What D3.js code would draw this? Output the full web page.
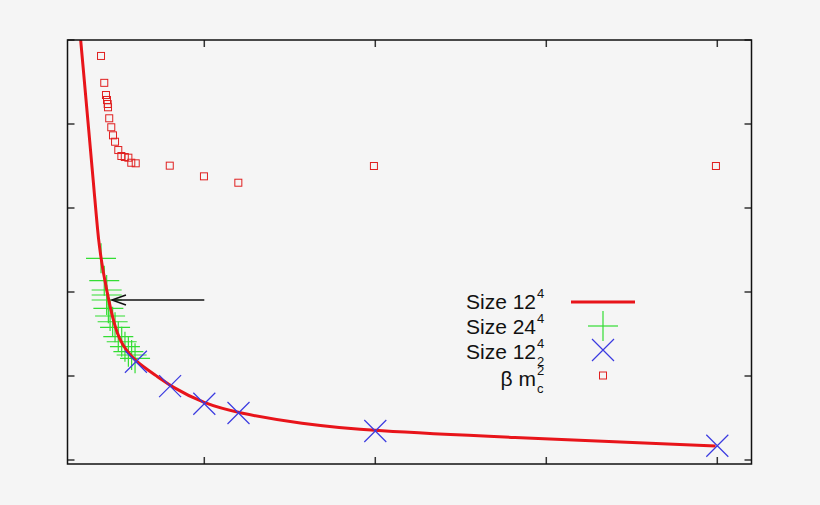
<!DOCTYPE html><html><head><meta charset="utf-8">
<script src="https://cdn.jsdelivr.net/npm/d3@7"></script>
<style>body{margin:0;background:#f5f5f5}svg{display:block}text{font-family:"Liberation Sans",Arial,sans-serif}</style>
</head><body><svg id="c" width="820" height="505"></svg>
<script>
const xTicks=[1,2,3,4];
const yTicks=[0,1,2,3,4,5];
const curveX=[0.277,0.361,0.380,0.409,0.449,0.495,0.595,0.741,0.80,1.0,1.197,1.56,1.99,2.73,3.99];
const curveY=[5.0,3.095,2.619,2.226,1.821,1.429,1.167,0.976,0.881,0.667,0.56,0.43,0.345,0.274,0.167];
const blueX=[0.60,0.80,1.0,1.2,2.0,4.0];
const blueY=[1.17,0.88,0.67,0.56,0.345,0.17];
const greenX=[0.396,0.415,0.429,0.429,0.429,0.439,0.449,0.464,0.478,0.497,0.517,0.536,0.556,0.575,0.595];
const greenY=[2.401,2.135,2.024,1.964,1.905,1.806,1.714,1.646,1.580,1.468,1.408,1.349,1.289,1.25,1.211];
const sqX=[0.396,0.415,0.425,0.431,0.435,0.437,0.444,0.456,0.466,0.478,0.497,0.515,0.535,0.556,0.573,0.599,0.798,0.998,1.199,1.992,3.992];
const sqY=[4.81,4.49,4.345,4.286,4.238,4.199,4.068,3.961,3.865,3.789,3.690,3.619,3.607,3.599,3.539,3.532,3.504,3.377,3.301,3.50,3.50];
const arrowFrom=[1.0,1.905], arrowTo=[0.46,1.905];

const svg=d3.select("#c");
const L=67.5,R=751.5,T=40,B=464;
const x=d3.scaleLinear().domain([0.2,4.2]).range([L,R]);
const y=d3.scaleLinear().domain([0,5]).range([460,40]);
svg.append("defs").append("clipPath").attr("id","cp").append("rect").attr("x",L).attr("y",T).attr("width",R-L).attr("height",B-T);
const g=svg.append("g");
xTicks.forEach(t=>{g.append("line").attr("x1",x(t)).attr("x2",x(t)).attr("y1",B).attr("y2",B-7).attr("stroke","#333").attr("stroke-width",1.5);
 g.append("line").attr("x1",x(t)).attr("x2",x(t)).attr("y1",T).attr("y2",T+7).attr("stroke","#333").attr("stroke-width",1.5);});
yTicks.forEach(t=>{g.append("line").attr("x1",L).attr("x2",L+7).attr("y1",y(t)).attr("y2",y(t)).attr("stroke","#333").attr("stroke-width",1.5);
 g.append("line").attr("x1",R).attr("x2",R-7).attr("y1",y(t)).attr("y2",y(t)).attr("stroke","#333").attr("stroke-width",1.5);});
const pg=svg.append("g").attr("clip-path","url(#cp)");
const sq=sqX.map((v,i)=>[v,sqY[i]]);
pg.selectAll(".sq").data(sq).join("rect").attr("x",d=>x(d[0])-3.5).attr("y",d=>y(d[1])-3.5).attr("width",7).attr("height",7).attr("fill","none").attr("stroke","#e02020").attr("stroke-width",1);
const gr=greenX.map((v,i)=>[v,greenY[i]]);
gr.forEach(d=>{const cx=x(d[0]),cy=y(d[1]);
 pg.append("line").attr("x1",cx-15).attr("x2",cx+15).attr("y1",cy).attr("y2",cy).attr("stroke","#33dd33").attr("stroke-width",1.2);
 pg.append("line").attr("x1",cx).attr("x2",cx).attr("y1",cy-15).attr("y2",cy+15).attr("stroke","#33dd33").attr("stroke-width",1.2);});
const cv=curveX.map((v,i)=>[v,curveY[i]]);
pg.append("path").datum(cv).attr("d",d3.line().x(d=>x(d[0])).y(d=>y(d[1])).curve(d3.curveBasis)).attr("fill","none").attr("stroke","#e8141a").attr("stroke-width",3);
const bl=blueX.map((v,i)=>[v,blueY[i]]);
bl.forEach(d=>{const cx=x(d[0]),cy=y(d[1]);
 pg.append("path").attr("d",`M${cx-11},${cy-11}L${cx+11},${cy+11}M${cx-11},${cy+11}L${cx+11},${cy-11}`).attr("stroke","#3a3ae0").attr("stroke-width",1.2);});
const ax1=x(arrowFrom[0]),ay=y(arrowFrom[1]),ax2=x(arrowTo[0]);
svg.append("line").attr("x1",ax1).attr("x2",ax2).attr("y1",ay).attr("y2",ay).attr("stroke","#111").attr("stroke-width",1.5);
svg.append("path").attr("d",`M${ax2+14},${ay-5}L${ax2},${ay}L${ax2+14},${ay+5}`).attr("fill","none").attr("stroke","#111").attr("stroke-width",1.5);
svg.append("rect").attr("x",L).attr("y",T).attr("width",R-L).attr("height",B-T).attr("fill","none").attr("stroke","#111").attr("stroke-width",1.5);
const lg=svg.append("g");
const rows=[309,334,359,386];
const fs=21, ss=13;
function lab(yy,main,sup,sub){
 lg.append("text").attr("x",536).attr("y",yy).attr("text-anchor","end").attr("font-size",fs).attr("fill","#111").text(main);
 lg.append("text").attr("x",537).attr("y",yy-11).attr("font-size",ss).attr("fill","#111").text(sup);
 if(sub) lg.append("text").attr("x",537).attr("y",yy+7).attr("font-size",ss).attr("fill","#111").text(sub);}
lab(rows[0],"Size 12","4");
lab(rows[1],"Size 24","4");
lab(rows[2],"Size 12","4","2");
lab(rows[3],"β m","2","c");
lg.append("line").attr("x1",571).attr("x2",635).attr("y1",rows[0]-7).attr("y2",rows[0]-7).attr("stroke","#e8141a").attr("stroke-width",3);
lg.append("line").attr("x1",588).attr("x2",618).attr("y1",rows[1]-8).attr("y2",rows[1]-8).attr("stroke","#33dd33").attr("stroke-width",1.2);
lg.append("line").attr("x1",603).attr("x2",603).attr("y1",rows[1]-23).attr("y2",rows[1]+7).attr("stroke","#33dd33").attr("stroke-width",1.2);
const bx=603,by=rows[2]-9;
lg.append("path").attr("d",`M${bx-11},${by-11}L${bx+11},${by+11}M${bx-11},${by+11}L${bx+11},${by-11}`).attr("stroke","#3a3ae0").attr("stroke-width",1.2);
lg.append("rect").attr("x",599.5).attr("y",rows[3]-14).attr("width",7).attr("height",7).attr("fill","none").attr("stroke","#e02020");
</script></body></html>
